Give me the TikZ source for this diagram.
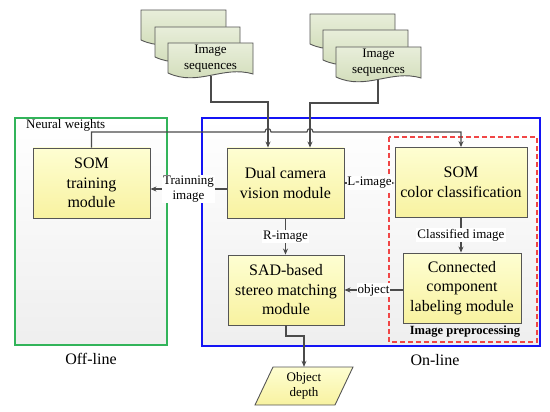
\documentclass[tikz,border=0pt]{standalone}
\usepackage{fontspec}
\setmainfont{Liberation Serif}
\usetikzlibrary{arrows.meta}
\definecolor{ybtop}{RGB}{254,254,210}
\definecolor{ybbot}{RGB}{248,242,160}
\definecolor{gtop}{RGB}{232,238,218}
\definecolor{gbot}{RGB}{206,218,180}
\definecolor{edge}{RGB}{85,85,85}
\definecolor{lin}{RGB}{75,75,75}
\definecolor{offg}{RGB}{50,180,90}
\definecolor{onb}{RGB}{20,20,245}
\definecolor{prer}{RGB}{240,70,70}
\tikzset{
  ybox/.style={draw=edge, line width=0.9pt, top color=ybtop, bottom color=ybbot,
    inner sep=0pt, align=center, font=\fontsize{16}{19.5}\selectfont},
  conn/.style={draw=lin, line width=1.1pt, -{Stealth[length=6pt,width=5pt]}},
  plain/.style={draw=lin, line width=1.1pt},
  lbl/.style={fill=white, inner sep=1pt, align=center, font=\fontsize{13}{15}\selectfont},
  sheet/.style={draw=edge, line width=0.9pt, top color=gtop, bottom color=gbot},
}
\newcommand{\docsheet}[2]{%
  \path[sheet] (#1,#2) -- (#1+85,#2) -- (#1+85,#2+31)
    .. controls (#1+55,#2+22) and (#1+30,#2+44) .. (#1,#2+30) -- cycle;}
\begin{document}
\begin{tikzpicture}[x=1pt,y=-1pt]
\useasboundingbox (0,0) rectangle (550,412);
% panels
\path[draw=offg, line width=1.2pt, top color=white, bottom color=gray!13] (15,118) rectangle (167,345);
\path[draw=onb, line width=1.2pt, top color=white, bottom color=gray!13] (202,118) rectangle (540,346);
\draw[prer, line width=1.2pt, dash pattern=on 5pt off 3pt] (389,137) rectangle (537,342);
\node[font=\fontsize{16}{19}\selectfont] (offl) at (91,359) {Off-line};
\node[font=\fontsize{16}{19}\selectfont] (onl) at (435,360) {On-line};
\node[font=\bfseries\fontsize{12.5}{15}\selectfont, inner sep=1pt] (prel) at (465,332) {Image preprocessing};
% document stacks
\docsheet{141}{10}
\docsheet{155}{27}
\docsheet{168}{43}
\node[align=center, font=\fontsize{13}{16}\selectfont] (seqL) at (210.5,59) {Image\\sequences};
\coordinate (seqLb) at (211,76);
\docsheet{310}{14}
\docsheet{323}{30}
\docsheet{336}{47}
\node[align=center, font=\fontsize{13}{16}\selectfont] (seqR) at (378.5,63) {Image\\sequences};
\coordinate (seqRb) at (378,80);
% boxes
\node[ybox, minimum width=117pt, minimum height=70pt] (somtrain) at (91.5,183) {SOM\\training\\module};
\node[ybox, minimum width=117pt, minimum height=70pt] (dual) at (285.5,183) {Dual camera\\vision module};
\node[ybox, minimum width=132pt, minimum height=70pt] (somcolor) at (461,182.5) {SOM\\color classification};
\node[ybox, minimum width=116pt, minimum height=70pt] (sad) at (286,290) {SAD-based\\stereo matching\\module};
\node[ybox, minimum width=118pt, minimum height=70pt] (ccl) at (462,288) {Connected\\component\\labeling module};
% object depth
\path[draw=edge, line width=0.9pt, top color=ybtop, bottom color=ybbot] (273,367) -- (353,367) -- (335,405) -- (255,405) -- cycle;
\node[align=center, font=\fontsize{13}{15}\selectfont, minimum height=38pt, inner sep=0pt] (depth) at (304,386) {Object\\depth};
% image sequence connectors
\coordinate (jL) at (268,102);
\coordinate (jR) at (310,103);
\draw[conn] (seqLb) |- (jL) -- (jL |- dual.north);
\draw[conn] (seqRb) |- (jR) -- (jR |- dual.north);
% neural weights
\coordinate (nw) at (0,132);
\draw[conn] (somtrain.north) -- (somtrain.north |- nw) -- (265,132)
  .. controls (265,127.5) and (271,127.5) .. (271,132) -- (307,132)
  .. controls (307,127.5) and (313,127.5) .. (313,132) -- (somcolor.north |- nw) -- (somcolor.north);
\node[anchor=west, font=\fontsize{13}{15}\selectfont, inner sep=0pt] (nwl) at (26,125) {Neural weights};
% module connectors
\draw[conn] ([yshift=-6pt]dual.west) -- node[lbl] {Trainning\\image} ([yshift=-6pt]somtrain.east);
\draw[conn] (dual.east) -- node[lbl, inner xsep=0pt] {L-image} (dual.east -| somcolor.west);
\draw[conn] (dual.south) -- node[lbl] {R-image} (dual.south |- sad.north);
\draw[conn] (somcolor.south) -- node[lbl] {Classified image} (somcolor.south |- ccl.north);
\draw[conn] (ccl.west |- sad.east) -- node[lbl] {object} (sad.east);
\coordinate (jD) at (304,336);
\draw[conn] (sad.south) |- (jD) -- (depth.north);
\end{tikzpicture}
\end{document}
